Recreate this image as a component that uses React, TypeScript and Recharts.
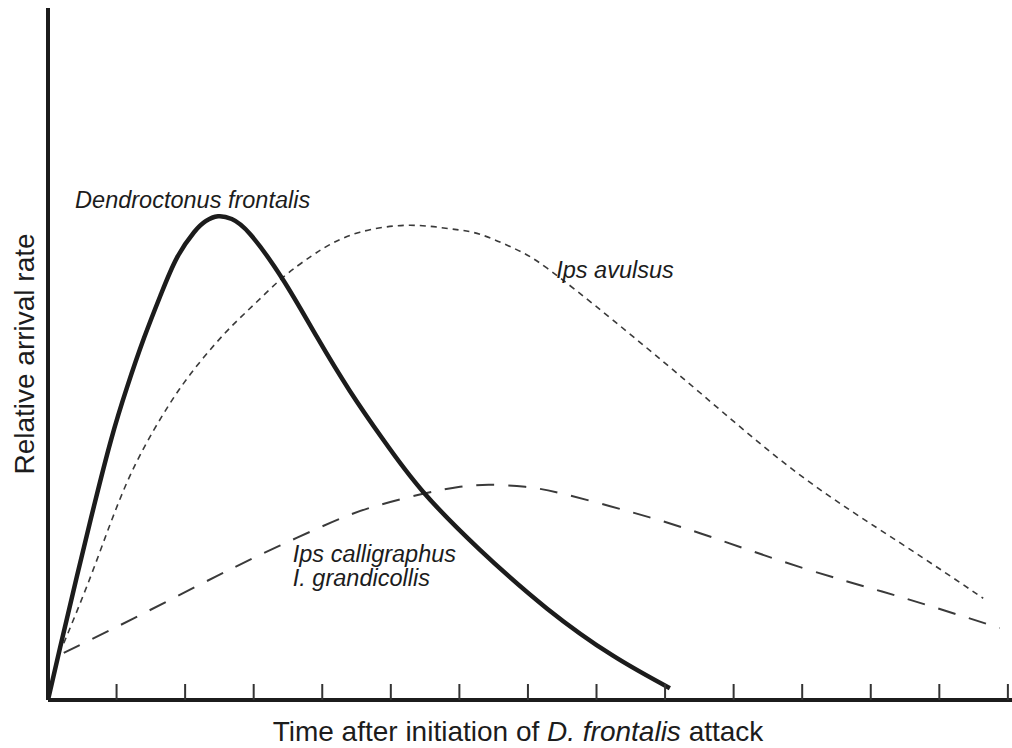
import { Label, Line, LineChart, ReferenceDot, XAxis, YAxis } from "recharts";

// x in tick units after attack starts, y as relative arrival rate (0-100)
const frontalisX = [0, 0.175, 0.42, 0.67, 0.92, 1.15, 1.4, 1.65, 1.88, 2.13, 2.3, 2.48, 2.68, 2.95, 3.43, 3.92, 4.4, 4.89, 5.47, 6.3, 7.28, 8.24, 9.07];
const frontalisY = [0, 7.5, 17.8, 28.0, 37.6, 45.1, 52.3, 58.7, 63.9, 67.6, 69.2, 69.9, 69.5, 67.3, 60.7, 52.5, 44.7, 37.6, 30.1, 21.7, 13.2, 6.4, 1.7];

const avulsusX = [0.23, 0.67, 1.15, 1.65, 2.07, 2.57, 3.0, 3.43, 3.82, 4.11, 4.55, 5.24, 5.86, 6.3, 6.81, 7.28, 8.24, 9.51, 10.97, 12.43, 13.64];
const avulsusY = [8.2, 19.1, 31.4, 40.8, 47.0, 52.9, 57.1, 61.1, 64.0, 65.8, 67.6, 68.6, 68.1, 67.3, 65.2, 62.4, 54.9, 44.4, 32.5, 22.7, 14.7];

const calligraphusX = [0.23, 1.25, 2.46, 3.38, 4.26, 4.84, 5.47, 6.01, 6.45, 6.96, 7.51, 8.49, 9.51, 10.97, 12.43, 13.88];
const calligraphusY = [6.8, 11.8, 17.9, 22.3, 26.2, 28.2, 29.8, 30.8, 31.1, 30.8, 29.8, 27.2, 24.1, 19.2, 14.9, 10.4];

const xTicks = [1, 2, 3, 4, 5, 6, 7, 8, 9, 10, 11, 12, 13, 14];

const zip = (xs: number[], ys: number[]) => xs.map((x, i) => ({ x, y: ys[i] }));

const frontalis = zip(frontalisX, frontalisY);
const avulsus = zip(avulsusX, avulsusY);
const calligraphus = zip(calligraphusX, calligraphusY);

const FONT = "'Liberation Sans', Arial, Helvetica, sans-serif";
const INK = "#1c1c1c";

function italicLabel(lines: string[], anchor: "start" | "middle") {
  return (props: any) => {
    const { x, y } = props.viewBox;
    return (
      <text x={x} y={y} fontFamily={FONT} fontStyle="italic" fontSize={23.5} fill={INK} textAnchor={anchor}>
        {lines.map((line, i) => (
          <tspan key={line} x={x} dy={i === 0 ? 0 : 24}>
            {line}
          </tspan>
        ))}
      </text>
    );
  };
}

export default function App() {
  return (
    <div style={{ position: "fixed", left: 0, top: 0, width: 1012, height: 748, background: "#fff" }}>
      <LineChart width={1012} height={748} margin={{ top: 8, right: 0, bottom: 48, left: 47 }}>
        <XAxis
          type="number"
          dataKey="x"
          domain={[0, 14.06]}
          ticks={xTicks}
          allowDataOverflow
          mirror
          height={30}
          tickSize={16}
          tickFormatter={() => ""}
          axisLine={{ stroke: INK, strokeWidth: 4 }}
          tickLine={{ stroke: "#333", strokeWidth: 2 }}
        >
          <Label
            content={() => (
              <text x={518} y={741} fontFamily={FONT} fontSize={28} fill={INK} textAnchor="middle">
                Time after initiation of <tspan fontStyle="italic">D. frontalis</tspan> attack
              </text>
            )}
          />
        </XAxis>
        <YAxis
          type="number"
          dataKey="y"
          domain={[0, 100]}
          width={1}
          tick={false}
          tickLine={false}
          axisLine={{ stroke: INK, strokeWidth: 4 }}
        >
          <Label
            content={() => (
              <text
                x={0}
                y={0}
                transform="translate(34 354) rotate(-90)"
                fontFamily={FONT}
                fontSize={28}
                fill={INK}
                textAnchor="middle"
              >
                Relative arrival rate
              </text>
            )}
          />
        </YAxis>
        <Line
          data={calligraphus}
          dataKey="y"
          type="natural"
          stroke="#3a3a3a"
          strokeWidth={2}
          strokeDasharray="18 14"
          dot={false}
          isAnimationActive={false}
        />
        <Line
          data={avulsus}
          dataKey="y"
          type="natural"
          stroke="#3a3a3a"
          strokeWidth={1.6}
          strokeDasharray="6 5"
          dot={false}
          isAnimationActive={false}
        />
        <Line
          data={frontalis}
          dataKey="y"
          type="natural"
          stroke={INK}
          strokeWidth={4.5}
          dot={false}
          isAnimationActive={false}
        />
        <ReferenceDot x={2.11} y={71.1} r={0} stroke="none" fill="none" label={italicLabel(["Dendroctonus frontalis"], "middle")} />
        <ReferenceDot x={8.27} y={61.0} r={0} stroke="none" fill="none" label={italicLabel(["Ips avulsus"], "middle")} />
        <ReferenceDot
          x={3.57}
          y={19.9}
          r={0}
          stroke="none"
          fill="none"
          label={italicLabel(["Ips calligraphus", "I. grandicollis"], "start")}
        />
      </LineChart>
    </div>
  );
}
